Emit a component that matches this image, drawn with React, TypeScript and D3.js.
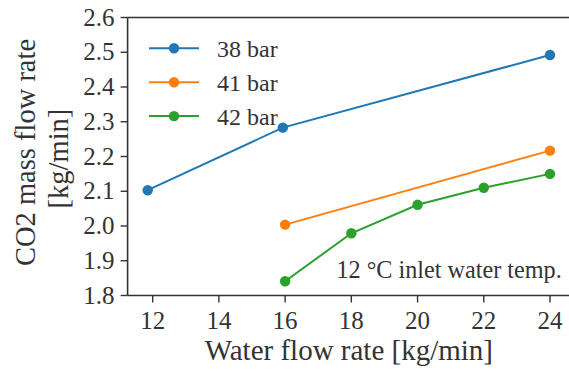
import React from "react";
import * as d3 from "d3";

const W = 569;
const H = 372;

const seriesNames = ["38 bar", "41 bar", "42 bar"];
const seriesColors = ["#1f77b4", "#ff7f0e", "#2ca02c"];
const x38 = [11.85, 15.93, 24];
const y38 = [2.103, 2.283, 2.492];
const x41 = [16, 24];
const y41 = [2.004, 2.217];
const x42 = [16, 18, 20, 22, 24];
const y42 = [1.841, 1.979, 2.061, 2.110, 2.150];
const xTicks = [12, 14, 16, 18, 20, 22, 24];
const yTicks = [1.8, 1.9, 2.0, 2.1, 2.2, 2.3, 2.4, 2.5, 2.6];

const FONT = "'Liberation Serif', 'Times New Roman', serif";
const INK = "#333333";

export default function App() {
  const left = 127.6;
  const right = 570.1;
  const top = 17.5;
  const bottom = 295.5;
  const x = d3.scaleLinear().domain([11.2425, 24.6075]).range([left, right]);
  const y = d3.scaleLinear().domain([1.8, 2.6]).range([bottom, top]);
  const line = d3
    .line<[number, number]>()
    .x((d) => x(d[0]))
    .y((d) => y(d[1]));

  const series = [
    { xs: x38, ys: y38 },
    { xs: x41, ys: y41 },
    { xs: x42, ys: y42 },
  ];

  return (
    <svg
      width={W}
      height={H}
      style={{ position: "absolute", left: 0, top: 0, background: "#fff" }}
    >
      <rect x={0} y={0} width={W} height={H} fill="#fff" />
      {/* series */}
      {series.map((s, i) => {
        const pts = s.xs.map((v, k) => [v, s.ys[k]] as [number, number]);
        return (
          <g key={i}>
            <path
              d={line(pts) || ""}
              fill="none"
              stroke={seriesColors[i]}
              strokeWidth={2}
            />
            {pts.map((p, k) => (
              <circle
                key={k}
                cx={x(p[0])}
                cy={y(p[1])}
                r={5.2}
                fill={seriesColors[i]}
              />
            ))}
          </g>
        );
      })}
      {/* spines */}
      <line x1={left} x2={left} y1={top} y2={bottom} stroke={INK} strokeWidth={1.6} />
      <line x1={left} x2={right} y1={bottom} y2={bottom} stroke={INK} strokeWidth={1.6} />
      <line x1={left} x2={right} y1={top} y2={top} stroke={INK} strokeWidth={1.6} />
      <line x1={right} x2={right} y1={top} y2={bottom} stroke={INK} strokeWidth={1.6} />
      {/* y ticks */}
      {yTicks.map((t) => (
        <g key={t}>
          <line x1={left - 7} x2={left} y1={y(t)} y2={y(t)} stroke={INK} strokeWidth={1.4} />
          <text
            x={left - 13}
            y={y(t) + 8}
            textAnchor="end"
            fontFamily={FONT}
            fontSize={25}
            fill={INK}
          >
            {t.toFixed(1)}
          </text>
        </g>
      ))}
      {/* x ticks */}
      {xTicks.map((t) => (
        <g key={t}>
          <line x1={x(t)} x2={x(t)} y1={bottom} y2={bottom + 7} stroke={INK} strokeWidth={1.4} />
          <text
            x={x(t)}
            y={bottom + 33}
            textAnchor="middle"
            fontFamily={FONT}
            fontSize={25}
            fill={INK}
          >
            {t}
          </text>
        </g>
      ))}
      {/* axis labels */}
      <text
        x={(left + right) / 2}
        y={360}
        textAnchor="middle"
        fontFamily={FONT}
        fontSize={29}
        fill={INK}
      >
        Water flow rate [kg/min]
      </text>
      <text
        transform={`translate(35, ${(top + bottom) / 2 - 4}) rotate(-90)`}
        textAnchor="middle"
        fontFamily={FONT}
        fontSize={28.5}
        fill={INK}
      >
        CO2 mass flow rate
      </text>
      <text
        transform={`translate(68, ${(top + bottom) / 2 + 2}) rotate(-90)`}
        textAnchor="middle"
        fontFamily={FONT}
        fontSize={28.5}
        fill={INK}
      >
        [kg/min]
      </text>
      {/* legend */}
      {seriesNames.map((n, i) => {
        const ly = 48.3 + i * 33.9;
        return (
          <g key={n}>
            <line x1={149} x2={199} y1={ly} y2={ly} stroke={seriesColors[i]} strokeWidth={2} />
            <circle cx={174} cy={ly} r={5.2} fill={seriesColors[i]} />
            <text x={217} y={ly + 8.5} fontFamily={FONT} fontSize={24} fill={INK}>
              {n}
            </text>
          </g>
        );
      })}
      {/* annotation */}
      <text
        x={561.7}
        y={278.3}
        textAnchor="end"
        fontFamily={FONT}
        fontSize={24.2}
        fill={INK}
      >
        12 °C inlet water temp.
      </text>
    </svg>
  );
}
